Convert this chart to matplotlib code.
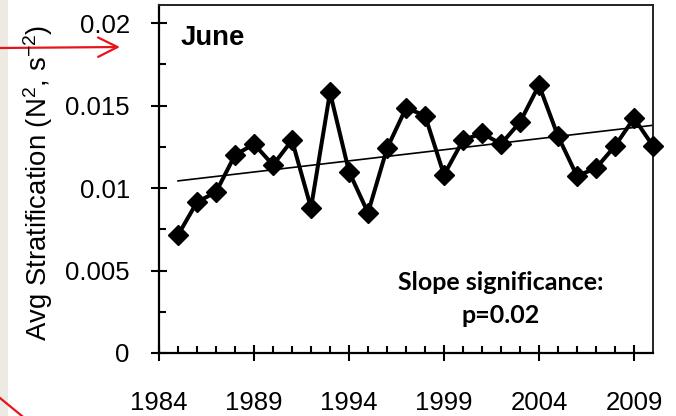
import matplotlib
matplotlib.use("Agg")
import matplotlib.pyplot as plt
import numpy as np
from matplotlib.lines import Line2D
from matplotlib.patches import Rectangle

# June average stratification by year
years = [1985, 1986, 1987, 1988, 1989, 1990, 1991, 1992, 1993, 1994,
         1995, 1996, 1997, 1998, 1999, 2000, 2001, 2002, 2003, 2004,
         2005, 2006, 2007, 2008, 2009, 2010]
stratification = [0.00715, 0.00915, 0.00976, 0.0120, 0.01267, 0.0114, 0.0129, 0.0088, 0.0158, 0.0110,
                  0.0085, 0.0124, 0.01485, 0.0144, 0.0108, 0.0129, 0.01333, 0.01267, 0.0140, 0.01624,
                  0.01315, 0.01073, 0.01121, 0.01255, 0.01424, 0.01255]

ytick_values = [0, 0.005, 0.01, 0.015, 0.02]
ytick_labels = ["0", "0.005", "0.01", "0.015", "0.02"]
xtick_values = [1984, 1989, 1994, 1999, 2004, 2009]

W, H = 676, 416
plt.rcParams["font.family"] = ["Liberation Sans", "DejaVu Sans"]
plt.rcParams["mathtext.default"] = "regular"

fig = plt.figure(figsize=(W / 100, H / 100), dpi=100)
ax = fig.add_axes([159 / W, 1 - 353 / H, (653 - 159) / W, (353 - 5) / H])

x = np.array(years, dtype=float)
y = np.array(stratification)

# least-squares trend
slope, intercept = np.polyfit(x, y, 1)
ax.plot(x, slope * x + intercept, color="black", lw=1.2, zorder=2)
ax.plot(x, y, color="black", lw=2.9, marker="D", ms=10, mfc="black", mec="black",
        zorder=3, clip_on=False)

ax.set_xlim(1984, 2010)
ax.set_ylim(0, 0.0211)
ax.set_xticks(xtick_values)
ax.set_xticks(np.arange(1985, 2010), minor=True)
ax.set_yticks(ytick_values)
ax.set_yticklabels(ytick_labels)
ax.set_yticks([0.0025, 0.0075, 0.0125, 0.0175], minor=True)

for side in ["left", "bottom"]:
    ax.spines[side].set_linewidth(1.6)
    ax.spines[side].set_color("black")
for side in ["top", "right"]:
    ax.spines[side].set_linewidth(1.4)
    ax.spines[side].set_color("#222222")

ax.tick_params(axis="y", which="major", direction="inout", length=11, width=1.5,
               pad=15.5, labelsize=18.5)
ax.tick_params(axis="x", which="major", direction="inout", length=12, width=1.5,
               pad=21, labelsize=18.5)
ax.tick_params(which="minor", direction="in", length=5, width=1.5)

fig.text(38 / W, 1 - 183 / H, "Avg Stratification (N$^{2}$, s$^{-2}$)",
         rotation=90, ha="center", va="center", fontsize=19.8)
fig.text(181 / W, 1 - 45 / H, "June", ha="left", va="baseline",
         fontsize=19.8, fontweight="bold")
fig.text(501 / W, 1 - 290 / H, "Slope significance:", ha="center", va="baseline",
         fontsize=18, fontweight="bold", family=["Lato", "DejaVu Sans"])
fig.text(501 / W, 1 - 323 / H, "p=0.02", ha="center", va="baseline",
         fontsize=18, fontweight="bold", family=["Lato", "DejaVu Sans"])

# slide margin and red pointer marks
fig.add_artist(Rectangle((0, 0), 8 / W, 1, transform=fig.transFigure,
                         facecolor="#ECEAE2", edgecolor="none", zorder=0))
fig.add_artist(Line2D([0, 22 / W], [1 - 398 / H, 0], transform=fig.transFigure,
                      color="#E8141B", lw=1.6))
ax.annotate("", xy=(120, H - 47), xytext=(0, H - 48),
            xycoords="figure pixels", textcoords="figure pixels",
            arrowprops=dict(arrowstyle="->, head_length=1.4, head_width=0.7",
                            color="#E8141B", lw=1.6, shrinkA=0, shrinkB=0),
            annotation_clip=False)

fig.savefig("out.png", dpi=100)
